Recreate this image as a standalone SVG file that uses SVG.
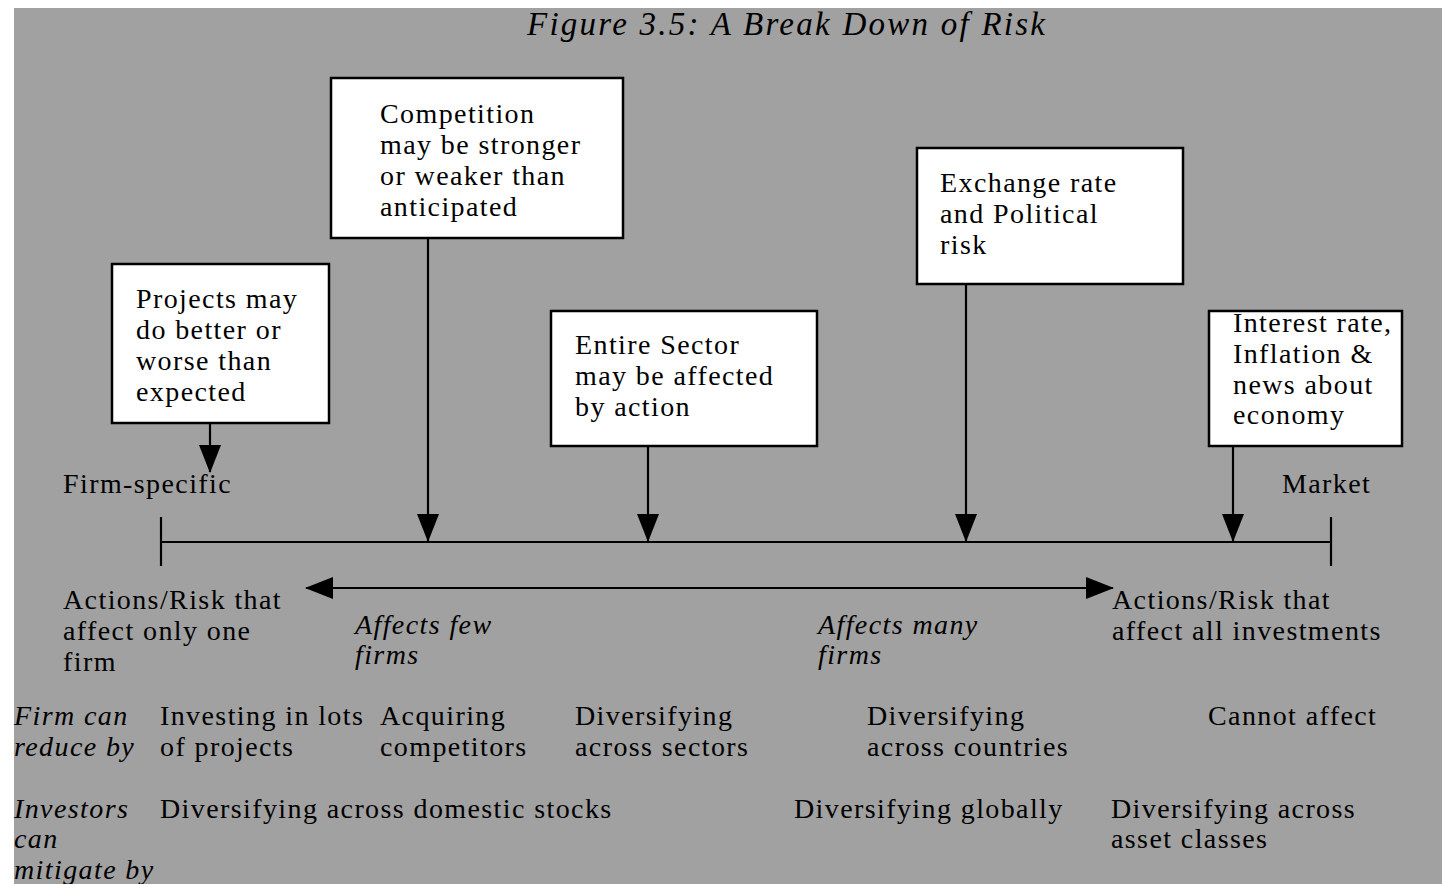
<svg xmlns="http://www.w3.org/2000/svg" width="1442" height="884" viewBox="0 0 1442 884">
<defs>
<style>
text{font-family:"Liberation Serif","Times New Roman",serif;font-size:28px;letter-spacing:1.4px;fill:#000}
.it{font-style:italic}
.title{font-size:33px;letter-spacing:0}
.box{fill:#fff;stroke:#000;stroke-width:2.5}
.ln{stroke:#000;stroke-width:2.2;fill:none}
</style>
<marker id="ah" markerUnits="userSpaceOnUse" markerWidth="28" markerHeight="22" viewBox="0 0 28 22" refX="27" refY="11" orient="auto-start-reverse">
<path d="M0,0 L28,11 L0,22 z" fill="#000"/>
</marker>
</defs>
<rect x="14" y="8" width="1428" height="876" fill="#a1a1a1"/>
<text class="it title" x="527" y="35" textLength="518" lengthAdjust="spacing">Figure 3.5: A Break Down of Risk</text>

<g id="connectors">
<line class="ln" x1="210" y1="423" x2="210" y2="472" marker-end="url(#ah)"/>
<line class="ln" x1="428" y1="238" x2="428" y2="541" marker-end="url(#ah)"/>
<line class="ln" x1="648" y1="446" x2="648" y2="541" marker-end="url(#ah)"/>
<line class="ln" x1="966" y1="284" x2="966" y2="541" marker-end="url(#ah)"/>
<line class="ln" x1="1233" y1="446" x2="1233" y2="541" marker-end="url(#ah)"/>
<line class="ln" x1="161" y1="542" x2="1331" y2="542"/>
<line class="ln" x1="161" y1="517" x2="161" y2="566"/>
<line class="ln" x1="1331" y1="517" x2="1331" y2="566"/>
<line class="ln" x1="306" y1="588" x2="1113" y2="588" marker-start="url(#ah)" marker-end="url(#ah)"/>
</g>

<g id="node-projects">
<rect class="box" x="112" y="264" width="217" height="159"/>
<text x="136" y="308">Projects may</text>
<text x="136" y="339">do better or</text>
<text x="136" y="370">worse than</text>
<text x="136" y="401">expected</text>
</g>
<g id="node-competition">
<rect class="box" x="331" y="78" width="292" height="160"/>
<text x="380" y="123">Competition</text>
<text x="380" y="154">may be stronger</text>
<text x="380" y="185">or weaker than</text>
<text x="380" y="216">anticipated</text>
</g>
<g id="node-sector">
<rect class="box" x="551" y="311" width="266" height="135"/>
<text x="575" y="354">Entire Sector</text>
<text x="575" y="385">may be affected</text>
<text x="575" y="416">by action</text>
</g>
<g id="node-exchange">
<rect class="box" x="917" y="148" width="266" height="136"/>
<text x="940" y="192">Exchange rate</text>
<text x="940" y="223">and Political</text>
<text x="940" y="254">risk</text>
</g>
<g id="node-interest">
<rect class="box" x="1209" y="311" width="193" height="135"/>
<text x="1233" y="332">Interest rate,</text>
<text x="1233" y="363">Inflation &amp;</text>
<text x="1233" y="394">news about</text>
<text x="1233" y="424">economy</text>
</g>

<g id="axis-labels">
<text x="63" y="493">Firm-specific</text>
<text x="1282" y="493">Market</text>
<text x="63" y="609">Actions/Risk that</text>
<text x="63" y="640">affect only one</text>
<text x="63" y="671">firm</text>
<text x="1112" y="609">Actions/Risk that</text>
<text x="1112" y="640">affect all investments</text>
<text class="it" x="355" y="634">Affects few</text>
<text class="it" x="355" y="664">firms</text>
<text class="it" x="818" y="634">Affects many</text>
<text class="it" x="818" y="664">firms</text>
</g>

<g id="row-firm">
<text class="it" x="14" y="725">Firm can</text>
<text class="it" x="14" y="756">reduce by</text>
<text x="160" y="725">Investing in lots</text>
<text x="160" y="756">of projects</text>
<text x="380" y="725">Acquiring</text>
<text x="380" y="756">competitors</text>
<text x="575" y="725">Diversifying</text>
<text x="575" y="756">across sectors</text>
<text x="867" y="725">Diversifying</text>
<text x="867" y="756">across countries</text>
<text x="1208" y="725">Cannot affect</text>
</g>

<g id="row-investors">
<text class="it" x="14" y="818">Investors</text>
<text class="it" x="14" y="848">can</text>
<text class="it" x="14" y="879">mitigate by</text>
<text x="160" y="818">Diversifying across domestic stocks</text>
<text x="794" y="818">Diversifying globally</text>
<text x="1111" y="818">Diversifying across</text>
<text x="1111" y="848">asset classes</text>
</g>
</svg>
